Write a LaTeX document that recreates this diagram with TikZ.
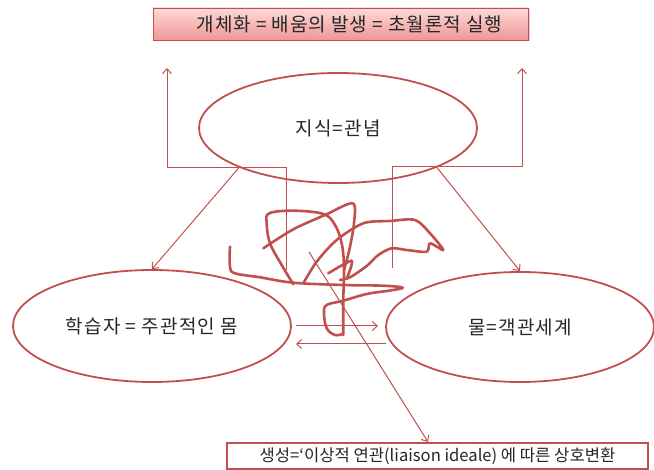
\documentclass[tikz,border=0pt]{standalone}
\usepackage{fontspec}
\setmainfont{Noto Sans CJK KR}
\newfontfamily\ovalfont{Noto Sans CJK KR}[LetterSpace=6]
\newfontfamily\titlefont{Noto Sans CJK KR}[LetterSpace=5]
\usetikzlibrary{shapes.geometric,arrows.meta,shadows}
\definecolor{ored}{HTML}{C0504D}
\definecolor{pinktop}{RGB}{251,218,216}
\definecolor{pinkbot}{RGB}{240,150,148}
\begin{document}
\begin{tikzpicture}[x=1pt,y=-1pt,
  oval/.style={draw=ored, line width=1.8pt, ellipse, inner sep=0pt, font=\ovalfont\fontsize{19}{22}\selectfont, text=black!85},
  conn/.style={draw=ored, line width=1pt, -{Straight Barb[length=5pt,width=9pt]}},
  scrib/.style={draw=ored, line width=2.6pt, line cap=round, line join=round},
  titlebox/.style={draw=ored, line width=0.8pt, top color=pinktop, bottom color=pinkbot, inner sep=0pt, font=\titlefont\fontsize{19}{22}\selectfont, text=black!85},
  genbox/.style={draw=ored, line width=2.2pt, fill=white, inner sep=0pt, font=\fontsize{16.6}{19}\selectfont, text=black!85}]
\useasboundingbox (0,0) rectangle (654,470);

\node[titlebox, minimum width=375, minimum height=32, drop shadow={opacity=0.3, shadow xshift=1.5pt, shadow yshift=-1.5pt}] (title) at (340.5,24) {\hspace{18pt}개체화 = 배움의 발생 = 초월론적 실행};
\node[oval, minimum width=278, minimum height=110] (know) at (338,128) {지식=관념};
\node[oval, minimum width=278, minimum height=112] (learner) at (152,326) {학습자 = 주관적인 몸};
\node[oval, minimum width=268, minimum height=110] (world) at (520,327) {물=객관세계};
\node[genbox, minimum width=421, minimum height=26] (gen) at (437.5,456) {생성=‘이상적 연관(liaison ideale) 에 따른 상호변환};

\coordinate (lstart) at (286,270);
\coordinate (lend) at (167,68);
\coordinate (rstart) at (392,268);
\coordinate (rend) at (522,68);
\coordinate (fwdA) at (296,326);
\coordinate (fwdB) at (378,326);
\coordinate (bckA) at (386,344);
\coordinate (bckB) at (296,344);
\coordinate (diagA) at (309,252);
\coordinate (diagB) at (428,442);

\draw[conn] (lstart) -- ++(0,-102) -| (lend);
\draw[conn] (rstart) -- ++(0,-101) -| (rend);
\draw[conn] (know.south west) -- (learner.north);
\draw[conn] (know.south east) -- (world.north);
\draw[conn] (fwdA) -- (fwdB);
\draw[conn] (bckA) -- (bckB);
\draw[conn] (diagA) -- (diagB);

% scribble
\draw[scrib] plot[smooth, tension=0.6] coordinates {(230,246.7) (230,266.7) (235,273.3) (260,277.3) (293.3,282.7) (343.3,285) (383.3,285.7) (402.7,287.7) (390,290.5) (366.7,294) (343.3,300.7) (326.7,305) (324,313.3) (326.7,328.3) (335,335) (342.7,334)};
\draw[scrib] plot[smooth, tension=0.6] coordinates {(293.3,284.3) (281.7,265) (270,243.3) (266.7,223.3) (269.3,213.3) (293.3,210.7) (323.3,214) (335,225) (341.7,243.3) (344,266.7) (343.3,300) (343.3,335)};
\draw[scrib] plot[smooth, tension=0.5] coordinates {(263.3,248.3) (293.3,229.3) (325,215) (352.7,203.3) (354,223.3) (349.3,250) (344,270)};
\draw[scrib] plot[smooth, tension=0.5] coordinates {(303.3,283.3) (316.7,261.7) (336.7,240) (363.3,223.3) (390,221) (415,220) (430,233.3) (443.3,250) (430,243.3) (426.7,251.7) (406.7,250) (391.7,248.3) (378.3,255) (366.7,266) (350,277.3) (340,280)};
\draw[scrib] plot[smooth, tension=0.4] coordinates {(328.3,273.3) (351.7,260.7) (347.3,277.3)};
\end{tikzpicture}
\end{document}
